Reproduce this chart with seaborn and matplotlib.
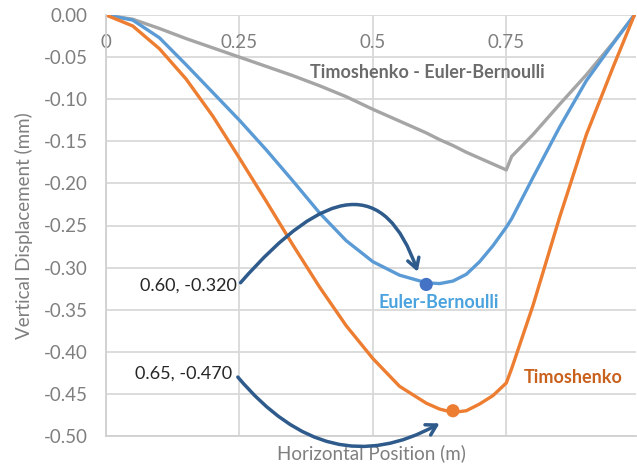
import pandas as pd
import seaborn as sns
import matplotlib.pyplot as plt

# beam position (m)
x_pos = [0, 0.05, 0.10, 0.15, 0.20, 0.25, 0.30, 0.35, 0.40, 0.45, 0.50, 0.55, 0.60,
         0.625, 0.65, 0.675, 0.70, 0.725, 0.75, 0.76, 0.80, 0.85, 0.90, 0.95, 0.99]

# vertical displacement (mm)
euler_bernoulli = [0, -0.006, -0.027, -0.059, -0.092, -0.125, -0.160, -0.197, -0.235, -0.268,
                   -0.293, -0.309, -0.318, -0.319, -0.316, -0.308, -0.293, -0.274, -0.252,
                   -0.242, -0.193, -0.133, -0.078, -0.034, 0]
timoshenko = [0, -0.013, -0.040, -0.076, -0.120, -0.170, -0.221, -0.273, -0.323, -0.369,
              -0.408, -0.441, -0.461, -0.468, -0.472, -0.470, -0.462, -0.452, -0.437,
              -0.420, -0.345, -0.240, -0.142, -0.062, 0]
difference = [0, -0.005, -0.016, -0.028, -0.039, -0.050, -0.061, -0.072, -0.084, -0.097,
              -0.112, -0.126, -0.140, -0.148, -0.155, -0.163, -0.170, -0.177, -0.184,
              -0.168, -0.142, -0.106, -0.071, -0.033, 0]

# max deflection points
peak_x = [0.60, 0.65]
peak_y = [-0.320, -0.470]
peak_labels = ["0.60, -0.320", "0.65, -0.470"]

x_ticks = [0, 0.25, 0.5, 0.75]
x_tick_labels = ["0", "0.25", "0.5", "0.75"]
y_ticks = [0, -0.05, -0.10, -0.15, -0.20, -0.25, -0.30, -0.35, -0.40, -0.45, -0.50]

sns.set_theme(style="whitegrid")
plt.rcParams["font.family"] = ["Lato", "DejaVu Sans"]

df = pd.DataFrame({"x": x_pos, "eb": euler_bernoulli, "timo": timoshenko, "diff": difference})

fig = plt.figure(figsize=(6.37, 4.70), dpi=100)
ax = fig.add_axes([106 / 637, 34 / 470, 530 / 637, 421 / 470])

sns.lineplot(data=df, x="x", y="diff", color="#a5a5a5", linewidth=2.4, sort=False, ax=ax)
sns.lineplot(data=df, x="x", y="eb", color="#5b9bd5", linewidth=2.4, sort=False, ax=ax)
sns.lineplot(data=df, x="x", y="timo", color="#ed7d31", linewidth=2.4, sort=False, ax=ax)

sns.scatterplot(x=peak_x, y=peak_y, hue=["eb", "timo"], palette=["#4472c4", "#ed7d31"],
                s=90, edgecolor="none", legend=False, zorder=5, ax=ax)

ax.set_xlim(0, 0.993)
ax.set_ylim(-0.50, 0.0)
ax.set_xticks(x_ticks)
ax.set_xticklabels(x_tick_labels)
ax.set_yticks(y_ticks)
ax.set_yticklabels([f"{v:.2f}" if v != 0 else "0.00" for v in y_ticks])

ax.xaxis.tick_top()
ax.tick_params(axis="x", length=0, pad=-26, labelsize=13.5, labelcolor="#7f7f7f")
ax.tick_params(axis="y", length=0, pad=13, labelsize=13.5, labelcolor="#7f7f7f")

ax.grid(True, color="#d9d9d9", linewidth=1.3)
for side in ["top", "right"]:
    ax.spines[side].set_visible(False)
for side in ["left", "bottom"]:
    ax.spines[side].set_color("#d0d0d0")
    ax.spines[side].set_linewidth(1.3)

ax.set_xlabel("Horizontal Position (m)", fontsize=13.5, color="#7f7f7f", labelpad=6)
ax.xaxis.set_label_position("bottom")
ax.set_ylabel("Vertical Displacement (mm)", fontsize=13.5, color="#7f7f7f", labelpad=8)

# series labels
ax.text(0.603, -0.068, "Timoshenko - Euler-Bernoulli", color="#6b6b6b", fontsize=13,
        fontweight="bold", ha="center", va="center")
ax.text(0.624, -0.341, "Euler-Bernoulli", color="#4aa3df", fontsize=13,
        fontweight="bold", ha="center", va="center")
ax.text(0.875, -0.430, "Timoshenko", color="#c9601c", fontsize=13,
        fontweight="bold", ha="center", va="center")

# callouts
ax.text(0.245, -0.321, peak_labels[0], fontsize=13, color="#262626", ha="right", va="center")
ax.text(0.236, -0.426, peak_labels[1], fontsize=13, color="#262626", ha="right", va="center")
arrow = dict(arrowstyle="->,head_length=0.6,head_width=0.35", color="#2e5b8c", lw=2.5,
             shrinkA=0, shrinkB=0)
ax.annotate("", xy=(0.584, -0.305), xytext=(0.252, -0.318),
            arrowprops=dict(arrow, connectionstyle="angle3,angleA=49,angleB=109"))
ax.annotate("", xy=(0.625, -0.485), xytext=(0.247, -0.430),
            arrowprops=dict(arrow, connectionstyle="angle3,angleA=-50,angleB=29"))

fig.savefig("out.png", dpi=100)
